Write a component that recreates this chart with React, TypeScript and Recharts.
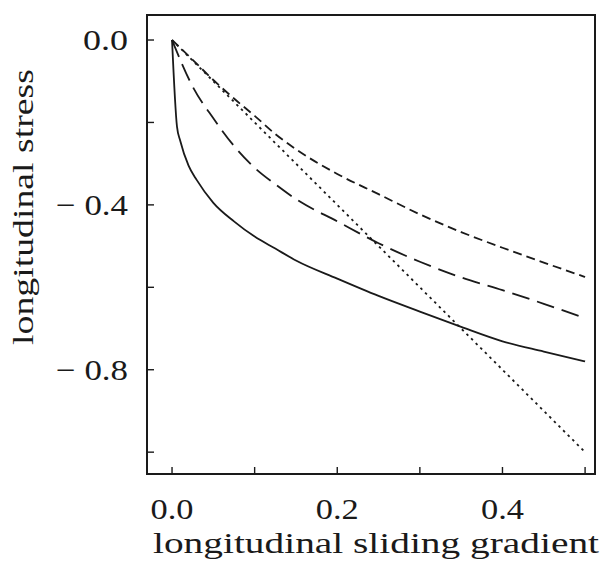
import React from "react";
import { LineChart, Line, XAxis, YAxis, ReferenceArea, Label } from "recharts";

// Longitudinal sliding gradient sample points
const gradientFine = [0, 0.006, 0.01, 0.02, 0.03, 0.05, 0.075, 0.1, 0.125, 0.15, 0.2, 0.25, 0.3, 0.35, 0.4, 0.45, 0.5];
const gradientGrid = [0, 0.025, 0.05, 0.075, 0.1, 0.125, 0.15, 0.2, 0.25, 0.3, 0.35, 0.4, 0.45, 0.5];

// Longitudinal stress for each curve
const stressSolid = [0, -0.21, -0.245, -0.305, -0.34, -0.395, -0.44, -0.477, -0.506, -0.535, -0.579, -0.621, -0.659, -0.696, -0.731, -0.756, -0.78];
const stressLongDash = [0, -0.113, -0.19, -0.257, -0.31, -0.35, -0.386, -0.44, -0.493, -0.538, -0.576, -0.607, -0.64, -0.675];
const stressShortDash = [0, -0.048, -0.097, -0.142, -0.184, -0.228, -0.265, -0.325, -0.374, -0.423, -0.466, -0.504, -0.54, -0.575];
const stressDotted = [0, -0.05, -0.1, -0.15, -0.2, -0.25, -0.3, -0.4, -0.5, -0.6, -0.7, -0.8, -0.9, -1.0];

// Axis ticks
const xTicks = [0, 0.1, 0.2, 0.3, 0.4, 0.5];
const xTickLabels = ["0.0", "", "0.2", "", "0.4", ""];
const yTicks = [0, -0.2, -0.4, -0.6, -0.8, -1.0];
const yTickLabels = ["0.0", "", "\u2212 0.4", "", "\u2212 0.8", ""];

const X_DOMAIN: [number, number] = [-0.0303, 0.512];
const Y_DOMAIN: [number, number] = [-1.053, 0.0607];

const toPoints = (xs: number[], ys: number[]) => xs.map((x, i) => ({ x, y: ys[i] }));

const solidData = toPoints(gradientFine, stressSolid);
const longDashData = toPoints(gradientGrid, stressLongDash);
const shortDashData = toPoints(gradientGrid, stressShortDash);
const dottedData = toPoints(gradientGrid, stressDotted);

const INK = "#1a1a1a";
const SERIF = '"Times New Roman", "Liberation Serif", "DejaVu Serif", serif';
const textStyle: React.CSSProperties = {
  fontFamily: SERIF,
  fontSize: 30,
  fill: INK,
};

const XTick = (props: any) => {
  const { x, payload } = props;
  const idx = xTicks.findIndex((t) => Math.abs(t - payload.value) < 1e-9);
  const label = idx >= 0 ? xTickLabels[idx] : "";
  const base = 474;
  return (
    <g>
      <line x1={x} y1={base} x2={x} y2={base - 7} stroke={INK} strokeWidth={1.4} />
      {label && (
        <text x={x} y={519} textAnchor="middle" fontFamily={SERIF} style={textStyle} textLength={43} lengthAdjust="spacingAndGlyphs">
          {label}
        </text>
      )}
    </g>
  );
};

const YTick = (props: any) => {
  const { y, payload } = props;
  const idx = yTicks.findIndex((t) => Math.abs(t - payload.value) < 1e-9);
  const label = idx >= 0 ? yTickLabels[idx] : "";
  const base = 147;
  return (
    <g>
      <line x1={base} y1={y} x2={base + 7} y2={y} stroke={INK} strokeWidth={1.4} />
      {label && (
        <text
          x={128}
          y={y + 10}
          textAnchor="end"
          fontFamily={SERIF}
          style={textStyle}
          textLength={label.length > 3 ? 72 : 45}
          lengthAdjust="spacingAndGlyphs"
        >
          {label}
        </text>
      )}
    </g>
  );
};

export default function App() {
  return (
    <div style={{ position: "absolute", left: 0, top: 0, background: "#fff" }}>
      <LineChart
        width={602}
        height={575}
        margin={{ top: 15, right: 7, left: 117, bottom: 71 }}
      >
        <XAxis
          type="number"
          dataKey="x"
          domain={X_DOMAIN}
          allowDataOverflow
          ticks={xTicks}
          tick={(p: any) => <XTick {...p} />}
          tickLine={false}
          height={30}
          axisLine={false}
          interval={0}
        >
          <Label
            content={() => (
              <text x={376} y={553} textAnchor="middle" fontFamily={SERIF} style={textStyle} textLength={446} lengthAdjust="spacingAndGlyphs">
                longitudinal sliding gradient
              </text>
            )}
          />
        </XAxis>
        <YAxis
          type="number"
          dataKey="y"
          domain={Y_DOMAIN}
          allowDataOverflow
          ticks={yTicks}
          tick={(p: any) => <YTick {...p} />}
          tickLine={false}
          width={30}
          axisLine={false}
          interval={0}
        >
          <Label
            content={() => (
              <text
                x={33}
                y={207}
                transform="rotate(-90 33 207)"
                textAnchor="middle"
                fontFamily={SERIF}
                style={textStyle}
                textLength={276}
                lengthAdjust="spacingAndGlyphs"
              >
                longitudinal stress
              </text>
            )}
          />
        </YAxis>
        <ReferenceArea
          x1={X_DOMAIN[0]}
          x2={X_DOMAIN[1]}
          y1={Y_DOMAIN[0]}
          y2={Y_DOMAIN[1]}
          fill="none"
          stroke={INK}
          strokeWidth={2}
          ifOverflow="visible"
        />
        <Line data={solidData} dataKey="y" type="monotone" stroke={INK} strokeWidth={1.8} dot={false} isAnimationActive={false} />
        <Line data={longDashData} dataKey="y" type="monotone" stroke={INK} strokeWidth={1.8} strokeDasharray="18 8" dot={false} isAnimationActive={false} />
        <Line data={shortDashData} dataKey="y" type="monotone" stroke={INK} strokeWidth={1.8} strokeDasharray="9 5" dot={false} isAnimationActive={false} />
        <Line data={dottedData} dataKey="y" type="linear" stroke={INK} strokeWidth={1.8} strokeDasharray="2.5 4" dot={false} isAnimationActive={false} />
      </LineChart>
    </div>
  );
}
